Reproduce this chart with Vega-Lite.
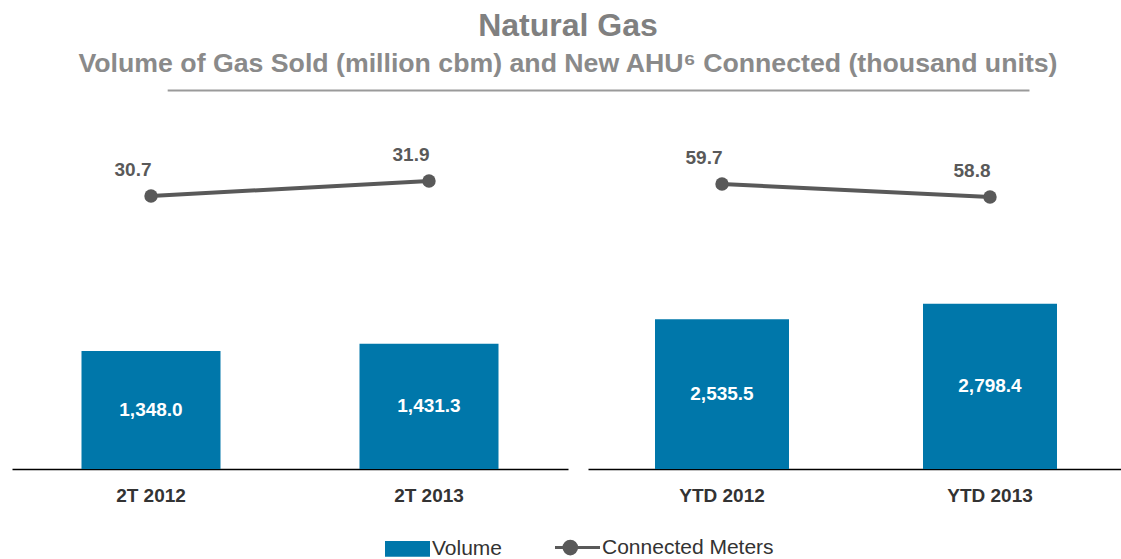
{
  "$schema": "https://vega.github.io/schema/vega-lite/v6.json",
  "background": "white",
  "padding": {"left": 12, "top": 9, "right": 0, "bottom": 0},
  "title": {
    "text": "Natural Gas",
    "subtitle": "Volume of Gas Sold (million cbm) and New AHU⁶ Connected (thousand units)",
    "anchor": "middle",
    "font": "Liberation Sans",
    "fontSize": 32,
    "fontWeight": "bold",
    "color": "#808080",
    "subtitleFont": "Liberation Sans",
    "subtitleFontSize": 26.7,
    "subtitleFontWeight": "bold",
    "subtitleColor": "#8a8a8a",
    "subtitlePadding": 8,
    "offset": 11
  },
  "config": {
    "view": {"stroke": null},
    "font": "Liberation Sans"
  },
  "datasets": {
    "left": [
      {"period": "2T 2012", "volume": 1348.0, "meters": 30.7},
      {"period": "2T 2013", "volume": 1431.3, "meters": 31.9}
    ],
    "right": [
      {"period": "YTD 2012", "volume": 2535.5, "meters": 59.7},
      {"period": "YTD 2013", "volume": 2798.4, "meters": 58.8}
    ],
    "rule": [{"a": 0.14, "b": 0.915}]
  },
  "vconcat": [
    {
      "width": 1112,
      "height": 1,
      "data": {"name": "rule"},
      "mark": {"type": "rule", "color": "#9a9a9a", "strokeWidth": 2},
      "encoding": {
        "x": {"field": "a", "type": "quantitative", "scale": {"domain": [0, 1], "nice": false, "zero": false}, "axis": null},
        "x2": {"field": "b"}
      }
    },
    {
      "hconcat": [
        {
          "width": 556,
          "height": 337,
          "data": {"name": "left"},
          "encoding": {
            "x": {
              "field": "period", "type": "nominal", "sort": null,
              "scale": {"paddingInner": 0.5, "paddingOuter": 0.25},
              "axis": {"title": null, "domainColor": "#000000", "domainWidth": 1.5, "ticks": false, "labelFont": "Liberation Sans", "labelFontSize": 19, "labelFontWeight": "bold", "labelColor": "#333333", "labelPadding": 17, "labelAngle": 0}
            }
          },
          "layer": [
            {
              "mark": {"type": "bar"},
              "encoding": {
                "y": {"field": "volume", "type": "quantitative", "scale": {"domain": [0, 3850], "nice": false}, "axis": null},
                "color": {"datum": "Volume", "type": "nominal", "scale": {"domain": ["Volume", "Connected Meters"], "range": ["#0077AA", "#595959"]},
                  "legend": {
                    "orient": "none", "legendX": 385, "legendY": 447, "direction": "horizontal", "title": null,
                    "labelFont": "Liberation Sans", "labelFontSize": 21, "labelColor": "#333333", "labelLimit": 400,
                    "labelOffset": 14, "columnPadding": 46, "symbolSize": 2025,
                    "encode": {"symbols": {"update": {
                      "shape": {"signal": "datum.value === 'Volume' ? 'M-1,-0.35L1,-0.35L1,0.35L-1,0.35Z' : 'M-1,0L1,0M-0.6,0A0.28,0.28 0 1 0 -0.04,0A0.28,0.28 0 1 0 -0.6,0'"},
                      "fill": {"scale": "color", "field": "value"},
                      "stroke": {"scale": "color", "field": "value"},
                      "strokeWidth": {"signal": "datum.value === 'Volume' ? 0 : 3"},
                      "opacity": {"value": 1},
                      "fillOpacity": {"value": 1}
                    }}}
                  }
                }
              }
            },
            {
              "mark": {"type": "text", "color": "white", "fontWeight": "bold", "fontSize": 19, "baseline": "middle", "font": "Liberation Sans"},
              "encoding": {
                "y": {"field": "volume", "type": "quantitative", "scale": {"domain": [0, 7700], "nice": false}, "axis": null},
                "text": {"field": "volume", "type": "quantitative", "format": ",.1f"}
              }
            },
            {
              "mark": {"type": "line", "strokeWidth": 4},
              "encoding": {
                "y": {"field": "meters", "type": "quantitative", "scale": {"domain": [8.86, 35.82], "nice": false, "zero": false}, "axis": null},
                "color": {"datum": "Connected Meters", "type": "nominal"}
              }
            },
            {
              "mark": {"type": "point", "filled": true, "size": 180, "color": "#595959", "opacity": 1},
              "encoding": {
                "y": {"field": "meters", "type": "quantitative", "scale": {"domain": [8.86, 35.82], "nice": false, "zero": false}, "axis": null}
              }
            },
            {
              "mark": {"type": "text", "color": "#595959", "fontWeight": "bold", "fontSize": 19, "baseline": "middle", "dx": -18, "dy": -26, "font": "Liberation Sans"},
              "encoding": {
                "y": {"field": "meters", "type": "quantitative", "scale": {"domain": [8.86, 35.82], "nice": false, "zero": false}, "axis": null},
                "text": {"field": "meters", "type": "quantitative", "format": ".1f"}
              }
            }
          ],
          "resolve": {"scale": {"y": "independent"}}
        },
        {
          "width": 536,
          "height": 337,
          "data": {"name": "right"},
          "encoding": {
            "x": {
              "field": "period", "type": "nominal", "sort": null,
              "scale": {"paddingInner": 0.5, "paddingOuter": 0.25},
              "axis": {"title": null, "domainColor": "#000000", "domainWidth": 1.5, "ticks": false, "labelFont": "Liberation Sans", "labelFontSize": 19, "labelFontWeight": "bold", "labelColor": "#333333", "labelPadding": 17, "labelAngle": 0}
            }
          },
          "layer": [
            {
              "mark": {"type": "bar"},
              "encoding": {
                "y": {"field": "volume", "type": "quantitative", "scale": {"domain": [0, 5705], "nice": false}, "axis": null},
                "color": {"datum": "Volume", "type": "nominal"}
              }
            },
            {
              "mark": {"type": "text", "color": "white", "fontWeight": "bold", "fontSize": 19, "baseline": "middle", "font": "Liberation Sans"},
              "encoding": {
                "y": {"field": "volume", "type": "quantitative", "scale": {"domain": [0, 11410], "nice": false}, "axis": null},
                "text": {"field": "volume", "type": "quantitative", "format": ",.1f"}
              }
            },
            {
              "mark": {"type": "line", "strokeWidth": 4},
              "encoding": {
                "y": {"field": "meters", "type": "quantitative", "scale": {"domain": [39.97, 63.3], "nice": false, "zero": false}, "axis": null},
                "color": {"datum": "Connected Meters", "type": "nominal"}
              }
            },
            {
              "mark": {"type": "point", "filled": true, "size": 180, "color": "#595959", "opacity": 1},
              "encoding": {
                "y": {"field": "meters", "type": "quantitative", "scale": {"domain": [39.97, 63.3], "nice": false, "zero": false}, "axis": null}
              }
            },
            {
              "mark": {"type": "text", "color": "#595959", "fontWeight": "bold", "fontSize": 19, "baseline": "middle", "dx": -18, "dy": -26, "font": "Liberation Sans"},
              "encoding": {
                "y": {"field": "meters", "type": "quantitative", "scale": {"domain": [39.97, 63.3], "nice": false, "zero": false}, "axis": null},
                "text": {"field": "meters", "type": "quantitative", "format": ".1f"}
              }
            }
          ],
          "resolve": {"scale": {"y": "independent"}}
        }
      ],
      "spacing": 20
    }
  ],
  "spacing": 40
}
